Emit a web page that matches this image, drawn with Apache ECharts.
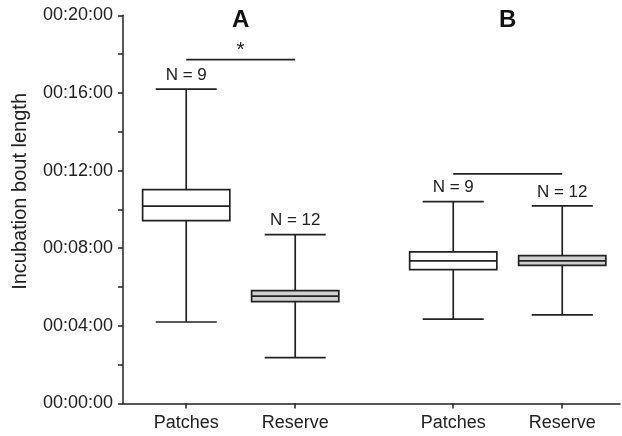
<!DOCTYPE html>
<html>
<head>
<meta charset="utf-8">
<script src="https://cdn.jsdelivr.net/npm/echarts@6/dist/echarts.min.js"></script>
<style>
  html, body { margin: 0; padding: 0; background: #fff; }
  #chart { width: 622px; height: 436px; }
</style>
</head>
<body>
<div id="chart"></div>
<script>
// categories and where they sit on the x axis (groups A and B)
var categories = ['Patches', 'Reserve', 'Patches', 'Reserve'];
var slots = [1, 2, 3.45, 4.45];
var groupNames = ['A', 'B'];

// box values in seconds: min, Q1, median, Q3, max
var mins    = [252, 142, 261, 274];
var q1s     = [565, 315, 414, 427];
var medians = [610, 332, 441, 441];
var q3s     = [661, 349, 469, 457];
var maxs    = [972, 522, 624, 611];
var nCounts = [9, 12, 9, 12];

// comparison bars: [from slot, to slot, height in seconds, mark]
var brackets = [[1, 2, 1063, '*'], [3.45, 4.45, 710, '']];

function hms(v) {
  var m = Math.floor(v / 60), s = v % 60;
  return '00:' + (m < 10 ? '0' : '') + m + ':' + (s < 10 ? '0' : '') + s;
}

var ink = '#222';
var font = 'Liberation Sans, Arial, sans-serif';
var lw = 1.7;

function boxChart() {
  var myChart = echarts.init(document.getElementById('chart'));

  var boxData = [];
  for (var i = 0; i < categories.length; i++) {
    boxData.push([slots[i], mins[i], q1s[i], medians[i], q3s[i], maxs[i], nCounts[i], i]);
  }

  var option = {
    animation: false,
    grid: { left: 123, right: 2, top: 15.3, bottom: 32.5 },
    xAxis: {
      type: 'value',
      min: 0.42,
      max: 4.98,
      splitLine: { show: false },
      axisLine: { lineStyle: { color: ink, width: 1.5 } },
      axisTick: { customValues: slots, length: 5, lineStyle: { color: ink, width: 1.5 } },
      axisLabel: {
        customValues: slots,
        margin: 11,
        color: ink,
        fontSize: 18,
        fontFamily: font,
        formatter: function (v) {
          var k = slots.indexOf(v);
          return k >= 0 ? categories[k] : '';
        }
      }
    },
    yAxis: {
      type: 'value',
      min: 0,
      max: 1200,
      interval: 240,
      name: 'Incubation bout length',
      nameLocation: 'middle',
      nameGap: 93,
      nameTextStyle: { color: ink, fontSize: 20, fontFamily: font, padding: [0, 0, 0, 36] },
      splitLine: { show: false },
      axisLine: { show: true, lineStyle: { color: ink, width: 1.5 } },
      axisTick: { length: 5, lineStyle: { color: ink, width: 1.5 } },
      minorTick: { show: true, splitNumber: 2, length: 5, lineStyle: { color: ink, width: 1.5 } },
      axisLabel: { margin: 10, color: ink, fontSize: 18, fontFamily: font, formatter: hms }
    },
    series: [{
      type: 'custom',
      data: boxData,
      encode: { x: 0, y: [1, 2, 3, 4, 5] },
      renderItem: function (params, api) {
        var x = api.value(0);
        var lo = api.coord([x, api.value(1)]);
        var q1 = api.coord([x, api.value(2)]);
        var md = api.coord([x, api.value(3)]);
        var q3 = api.coord([x, api.value(4)]);
        var hi = api.coord([x, api.value(5)]);
        var unit = api.size([1, 0])[0];
        var bw = unit * 0.8, cw = unit * 0.56;
        var cx = lo[0];
        var fill = categories[api.value(7)] === 'Reserve' ? '#d0d0d0' : '#fff';
        var ls = { stroke: ink, lineWidth: lw, fill: null };
        return {
          type: 'group',
          children: [
            { type: 'line', shape: { x1: cx, y1: lo[1], x2: cx, y2: hi[1] }, style: ls },
            { type: 'line', shape: { x1: cx - cw / 2, y1: lo[1], x2: cx + cw / 2, y2: lo[1] }, style: ls },
            { type: 'line', shape: { x1: cx - cw / 2, y1: hi[1], x2: cx + cw / 2, y2: hi[1] }, style: ls },
            { type: 'rect', shape: { x: cx - bw / 2, y: q3[1], width: bw, height: q1[1] - q3[1] },
              style: { stroke: ink, lineWidth: lw, fill: fill } },
            { type: 'line', shape: { x1: cx - bw / 2, y1: md[1], x2: cx + bw / 2, y2: md[1] }, style: ls },
            { type: 'text', x: cx, y: hi[1] - 14,
              style: { text: 'N = ' + api.value(6), fill: ink, fontSize: 17, fontFamily: font,
                       align: 'center', verticalAlign: 'middle' } }
          ]
        };
      }
    }, {
      type: 'custom',
      data: brackets.map(function (b, i) { return [b[0], b[1], b[2], i]; }),
      encode: { x: [0, 1], y: 2 },
      renderItem: function (params, api) {
        var i = api.value(3);
        var a = api.coord([api.value(0), api.value(2)]);
        var b = api.coord([api.value(1), api.value(2)]);
        var top = api.coord([0, 1200])[1];
        var mid = (a[0] + b[0]) / 2;
        return {
          type: 'group',
          children: [
            { type: 'line', shape: { x1: a[0], y1: a[1], x2: b[0], y2: b[1] },
              style: { stroke: ink, lineWidth: lw } },
            { type: 'text', x: mid, y: a[1] + 1,
              style: { text: brackets[i][3], fill: ink, fontSize: 21, fontFamily: font,
                       align: 'center', verticalAlign: 'bottom' } },
            { type: 'text', x: mid, y: top + 5.5,
              style: { text: groupNames[i], fill: '#111', fontSize: 24, fontWeight: 'bold',
                       fontFamily: font, align: 'center', verticalAlign: 'middle' } }
          ]
        };
      }
    }]
  };

  myChart.setOption(option);
}

boxChart();
</script>
</body>
</html>
